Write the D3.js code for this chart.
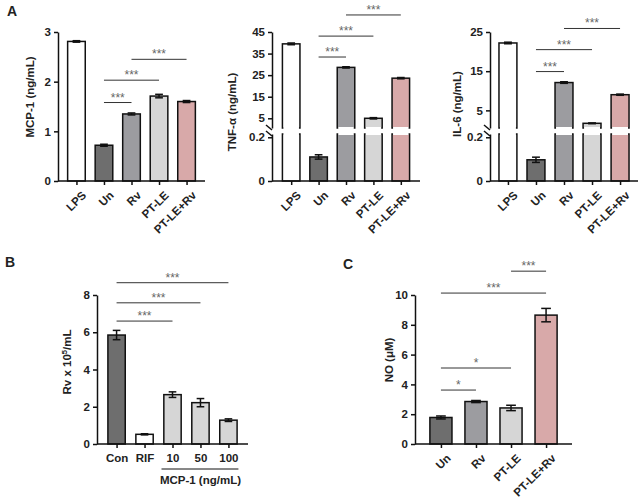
<!DOCTYPE html>
<html lang="en">
<head>
<meta charset="UTF-8">
<title>Cytokines, Rv growth and NO</title>
<script src="https://d3js.org/d3.v7.min.js"></script>
<style>
    body { margin: 0; padding: 0; background: #fff; }
    svg text { font-family: "Liberation Sans", Arial, sans-serif; font-weight: bold; fill: #222; }
    .axis path, .axis line { stroke: #111; stroke-width: 1.5; }
    .sig line { stroke: #333; stroke-width: 1; }
    .sig text { font-size: 12px; fill: #666; font-weight: normal; }
</style>
</head>
<body>
<svg id="fig" width="644" height="498"></svg>
<script>
// ---- data ----
var groupsA = ["LPS", "Un", "Rv", "PT-LE", "PT-LE+Rv"];
var colorsA = ["#ffffff", "#6e6e6e", "#9c9ca0", "#d6d6d6", "#d8a9a9"];

var mcp1 = [2.81, 0.72, 1.35, 1.71, 1.60];
var mcp1Err = [0.015, 0.02, 0.02, 0.035, 0.02];
var mcp1Ticks = [0, 1, 2, 3];

var tnf = [39.5, 0.11, 28.6, 5.0, 23.6];
var tnfErr = [0.4, 0.01, 0.3, 0.3, 0.3];
var tnfTicksLow = [0, 0.2];
var tnfTicksHigh = [5, 15, 25, 35, 45];

var il6 = [22.2, 0.097, 12.1, 1.7, 9.0];
var il6Err = [0.2, 0.012, 0.2, 0.1, 0.15];
var il6TicksLow = [0, 0.2];
var il6TicksHigh = [5, 15, 25];

var groupsB = ["Con", "RIF", "10", "50", "100"];
var colorsB = ["#6e6e6e", "#ffffff", "#d6d6d6", "#d6d6d6", "#d6d6d6"];
var rvCount = [5.85, 0.52, 2.65, 2.22, 1.28];
var rvCountErr = [0.25, 0.03, 0.15, 0.22, 0.07];
var rvTicks = [0, 2, 4, 6, 8];

var groupsC = ["Un", "Rv", "PT-LE", "PT-LE+Rv"];
var colorsC = ["#6e6e6e", "#9c9ca0", "#d6d6d6", "#d8a9a9"];
var no = [1.78, 2.85, 2.42, 8.65];
var noErr = [0.1, 0.07, 0.18, 0.45];
var noTicks = [0, 2, 4, 6, 8, 10];

// significance brackets: [from, to, label, height in data units]
var sigMcp = [["Un", "Rv", "***", 1.58], ["Un", "PT-LE", "***", 2.03], ["Rv", "PT-LE+Rv", "***", 2.45]];
var sigTnf = [["Un", "Rv", "***", 33.4], ["Un", "PT-LE", "***", 43.1], ["Rv", "PT-LE+Rv", "***", 52.9]];
var sigIl6 = [["Un", "Rv", "***", 14.9], ["Un", "PT-LE", "***", 20.5], ["Rv", "PT-LE+Rv", "***", 25.9]];
var sigB = [["Con", "10", "***", 6.6], ["Con", "50", "***", 7.58], ["Con", "100", "***", 8.66]];
var sigC = [["Un", "Rv", "*", 3.62], ["Un", "PT-LE", "*", 5.1], ["Un", "PT-LE+Rv", "***", 10.13], ["PT-LE", "PT-LE+Rv", "***", 11.6]];

var svg = d3.select("#fig");

// draws one bar panel; if p.yLow is given the y axis is broken in two
function drawPanel(p) {
    var g = svg.append("g");
    var x = d3.scalePoint().domain(p.groups).range(p.xRange).padding(p.pad);
    var bw = x.step() * p.barFrac;
    var yLow = p.yLow, yHigh = p.y;
    var base = p.yLow ? yLow.range()[0] : yHigh.range()[0];

    function yOf(v) {
        if (!yLow) return yHigh(v);
        return v <= yLow.domain()[1] ? yLow(v) : yHigh(v);
    }

    // bars
    p.groups.forEach(function(k, i) {
        var v = p.vals[i];
        var cx = x(k);
        if (yLow && v > yLow.domain()[1]) {
            g.append("rect").attr("x", cx - bw / 2).attr("width", bw)
                .attr("y", yLow.range()[1]).attr("height", base - yLow.range()[1])
                .attr("fill", p.colors[i]).attr("stroke", "#111").attr("stroke-width", 1.5);
            g.append("rect").attr("x", cx - bw / 2).attr("width", bw)
                .attr("y", yHigh(v)).attr("height", yHigh.range()[0] - yHigh(v))
                .attr("fill", p.colors[i]).attr("stroke", "#111").attr("stroke-width", 1.5);
            // hide the horizontal edges at the break
            g.append("rect").attr("x", cx - bw / 2 + 1).attr("width", bw - 2)
                .attr("y", yHigh.range()[0] - 1).attr("height", yLow.range()[1] - yHigh.range()[0] + 2)
                .attr("fill", "#fff");
        } else {
            g.append("rect").attr("x", cx - bw / 2).attr("width", bw)
                .attr("y", yOf(v)).attr("height", base - yOf(v))
                .attr("fill", p.colors[i]).attr("stroke", "#111").attr("stroke-width", 1.5);
        }
        // error bar
        var e = p.errs[i];
        var top = yOf(v + e), bot = yOf(Math.max(v - e, 0));
        g.append("line").attr("x1", cx).attr("x2", cx).attr("y1", top).attr("y2", bot)
            .attr("stroke", "#111").attr("stroke-width", 1.5);
        g.append("line").attr("x1", cx - bw * 0.22).attr("x2", cx + bw * 0.22).attr("y1", top).attr("y2", top)
            .attr("stroke", "#111").attr("stroke-width", 1.5);
        g.append("line").attr("x1", cx - bw * 0.22).attr("x2", cx + bw * 0.22).attr("y1", bot).attr("y2", bot)
            .attr("stroke", "#111").attr("stroke-width", 1.5);
    });

    // y axis
    var ax = p.xRange[0];
    g.append("g").attr("class", "axis").attr("transform", "translate(" + ax + ",0)")
        .call(d3.axisLeft(yHigh).tickValues(p.ticks).tickSize(4).tickSizeOuter(0).tickFormat(d3.format("")));
    if (yLow) {
        g.append("g").attr("class", "axis").attr("transform", "translate(" + ax + ",0)")
            .call(d3.axisLeft(yLow).tickValues(p.ticksLow).tickSize(4).tickSizeOuter(0).tickFormat(d3.format("")));
        [yHigh.range()[0], yLow.range()[1]].forEach(function(yy) {
            g.append("line").attr("x1", ax - 6).attr("y1", yy - 3).attr("x2", ax).attr("y2", yy + 2)
                .attr("stroke", "#111").attr("stroke-width", 1.5);
        });
    }
    g.selectAll(".axis text").style("font-size", "11.5px");

    // x axis
    var xAxis = g.append("g").attr("class", "axis").attr("transform", "translate(0," + base + ")")
        .call(d3.axisBottom(x).tickSize(4).tickSizeOuter(0));
    xAxis.select(".domain").attr("d", "M" + p.xRange[0] + ",0H" + p.xRange[1]);
    var xt = xAxis.selectAll("text").style("font-size", "11.5px");
    if (p.rotate) {
        xt.attr("x", 0).attr("y", 0).attr("dy", 0)
            .attr("text-anchor", "end")
            .attr("transform", "translate(10,15) rotate(-45)");
    } else {
        xt.attr("y", 10);
    }

    // y label
    var lab = g.append("text").attr("text-anchor", "middle").style("font-size", "11.5px")
        .attr("transform", "translate(" + p.labelPos[0] + "," + p.labelPos[1] + ") rotate(-90)");
    if (p.labelParts) {
        lab.append("tspan").text(p.labelParts[0]);
        lab.append("tspan").text(p.labelParts[1]).attr("dy", -4).style("font-size", "7.5px");
        lab.append("tspan").text(p.labelParts[2]).attr("dy", 4);
    } else {
        lab.text(p.label);
    }

    // significance brackets
    var sg = g.append("g").attr("class", "sig");
    p.sig.forEach(function(s) {
        var yy = yHigh(s[3]);
        var x1 = x(s[0]), x2 = x(s[1]);
        sg.append("line").attr("x1", x1).attr("x2", x2).attr("y1", yy).attr("y2", yy);
        sg.append("text").attr("x", (x1 + x2) / 2).attr("y", yy - 1)
            .attr("text-anchor", "middle").text(s[2]);
    });
    return x;
}

// panel A
drawPanel({ groups: groupsA, vals: mcp1, errs: mcp1Err, colors: colorsA,
    xRange: [58, 205], pad: 0.67, barFrac: 0.64,
    y: d3.scaleLinear().domain([0, 3]).range([181, 32]), ticks: mcp1Ticks,
    label: "MCP-1 (ng/mL)", labelPos: [34, 97], sig: sigMcp, rotate: true });

drawPanel({ groups: groupsA, vals: tnf, errs: tnfErr, colors: colorsA,
    xRange: [272, 420], pad: 0.7, barFrac: 0.64,
    y: d3.scaleLinear().domain([0.5, 45]).range([128, 32]), ticks: tnfTicksHigh,
    yLow: d3.scaleLinear().domain([0, 0.215]).range([181, 134]), ticksLow: tnfTicksLow,
    label: "TNF-\u03b1 (ng/mL)", labelPos: [236, 112], sig: sigTnf, rotate: true });

drawPanel({ groups: groupsA, vals: il6, errs: il6Err, colors: colorsA,
    xRange: [490, 638], pad: 0.64, barFrac: 0.64,
    y: d3.scaleLinear().domain([0.5, 25]).range([128, 32]), ticks: il6TicksHigh,
    yLow: d3.scaleLinear().domain([0, 0.215]).range([181, 134]), ticksLow: il6TicksLow,
    label: "IL-6 (ng/mL)", labelPos: [461, 104], sig: sigIl6, rotate: true });

// panel B
var xB = drawPanel({ groups: groupsB, vals: rvCount, errs: rvCountErr, colors: colorsB,
    xRange: [97, 248], pad: 0.7, barFrac: 0.62,
    y: d3.scaleLinear().domain([0, 8]).range([444, 295]), ticks: rvTicks,
    labelParts: ["Rv x 10", "5", "/mL"], labelPos: [71, 362], sig: sigB, rotate: false });
svg.append("line").attr("x1", xB("10") - 11).attr("x2", xB("100") + 10)
    .attr("y1", 469).attr("y2", 469).attr("stroke", "#111").attr("stroke-width", 1);
svg.append("text").attr("x", (xB("10") + xB("100")) / 2).attr("y", 484)
    .attr("text-anchor", "middle").style("font-size", "11.5px").text("MCP-1 (ng/mL)");

// panel C
drawPanel({ groups: groupsC, vals: no, errs: noErr, colors: colorsC,
    xRange: [415, 572], pad: 0.74, barFrac: 0.63,
    y: d3.scaleLinear().domain([0, 10]).range([444, 295]), ticks: noTicks,
    label: "NO (\u03bcM)", labelPos: [393, 360], sig: sigC, rotate: true });

// panel letters
[["A", 7, 16], ["B", 5, 267], ["C", 343, 269]].forEach(function(l) {
    svg.append("text").attr("x", l[1]).attr("y", l[2]).style("font-size", "14px").text(l[0]);
});
</script>
</body>
</html>
